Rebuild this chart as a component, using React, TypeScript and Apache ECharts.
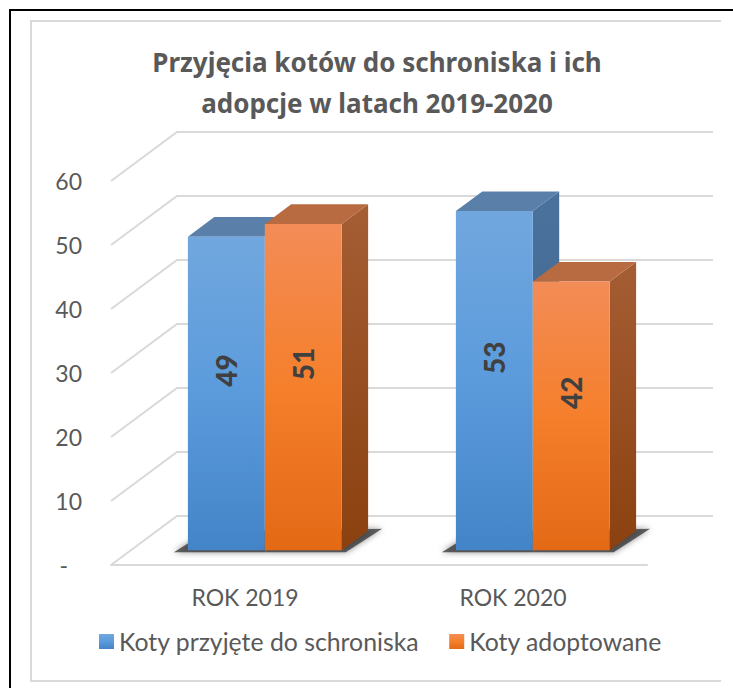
import React, { useEffect, useRef } from "react";
import * as echarts from "echarts";

const categories = ["ROK 2019", "ROK 2020"];
const admitted = [49, 53];
const adopted = [51, 42];
const seriesNames = ["Koty przyjęte do schroniska", "Koty adoptowane"];
const yTicks = [0, 10, 20, 30, 40, 50, 60];
const titleText = "Przyjęcia kotów do schroniska i ich\nadopcje w latach 2019-2020";

const FONT = "Lato, 'Noto Sans', sans-serif";
const TITLE_FONT = "'Noto Sans', Lato, sans-serif";
const TEXT = "#595959";
const GRID_COLOR = "#d9d9d9";
const DX = 66;
const DY = -49;
const BAR_FRONT = 0.3;
const BAR_BACK = 0.7;
const BAR_RATIO = 0.287;

const palettes = [
  {
    front: ["#71a7de", "#5b9bdc", "#4384c8"],
    top: "#5a80aa",
    side: ["#4a729c", "#3c6189"],
  },
  {
    front: ["#f38c57", "#f57f2b", "#e36915"],
    top: "#b86b41",
    side: ["#a55d34", "#8b410f"],
  },
];

function grad(stops: string[]) {
  return new echarts.graphic.LinearGradient(
    0,
    0,
    0,
    1,
    stops.map((c, i) => ({ offset: stops.length === 1 ? 0 : i / (stops.length - 1), color: c }))
  );
}

function makeBarRender(sIdx: number) {
  const pal = palettes[sIdx];
  return (params: any, api: any) => {
    const cat = api.value(0);
    const val = api.value(1);
    const base = api.coord([cat, 0]);
    const top = api.coord([cat, val]);
    const band = api.size([1, 0])[0];
    const w = band * BAR_RATIO;
    const x0 = sIdx === 0 ? base[0] - w : base[0];
    const x1 = x0 + w;
    const fx = DX * BAR_FRONT;
    const fy = DY * BAR_FRONT;
    const bx = DX * BAR_BACK;
    const by = DY * BAR_BACK;
    const yb = base[1];
    const yt = top[1];
    const labelY = api.coord([cat, val / 2 + 3.6])[1] + fy;

    const shadowPts =
      sIdx === 0
        ? [
            [x0 + fx - 14, yb + fy + 2],
            [x1 + fx, yb + fy + 2],
            [x1 + bx, yb + by],
            [x0 + bx - 6, yb + by],
          ]
        : [
            [x0 + fx, yb + fy + 2],
            [x1 + fx + 4, yb + fy + 2],
            [x1 + bx + 14, yb + by - 2],
            [x0 + bx, yb + by],
          ];

    return {
      type: "group",
      children: [
        {
          type: "polygon",
          shape: { points: shadowPts },
          style: {
            fill: "rgba(50,50,50,0.75)",
            shadowBlur: 6,
            shadowColor: "rgba(0,0,0,0.6)",
          },
        },
        {
          type: "polygon",
          shape: {
            points: [
              [x1 + fx, yt + fy],
              [x1 + bx, yt + by],
              [x1 + bx, yb + by],
              [x1 + fx, yb + fy],
            ],
          },
          style: { fill: grad(pal.side) },
        },
        {
          type: "polygon",
          shape: {
            points: [
              [x0 + fx, yt + fy],
              [x1 + fx, yt + fy],
              [x1 + bx, yt + by],
              [x0 + bx, yt + by],
            ],
          },
          style: { fill: pal.top },
        },
        {
          type: "rect",
          shape: { x: x0 + fx, y: yt + fy, width: w, height: yb - yt },
          style: { fill: grad(pal.front) },
        },
        {
          type: "text",
          x: (x0 + x1) / 2 + fx,
          y: labelY,
          rotation: Math.PI / 2,
          style: {
            text: String(val),
            fill: "#404040",
            font: `900 28px ${FONT}`,
            align: "center",
            verticalAlign: "middle",
          },
        },
      ],
    };
  };
}

function wallRender(params: any, api: any) {
  const cs = params.coordSys;
  const y = api.coord([0, api.value(1)])[1];
  return {
    type: "polyline",
    shape: {
      points: [
        [cs.x, y],
        [cs.x + DX, y + DY],
        [cs.x + cs.width + DX, y + DY],
      ],
    },
    style: { stroke: GRID_COLOR, lineWidth: 2, fill: "none" },
  };
}

export default function App() {
  const ref = useRef<HTMLDivElement>(null);
  useEffect(() => {
    if (!ref.current) return;
    document.documentElement.style.overflow = "hidden";
    document.body.style.overflow = "hidden";
    const chart = echarts.init(ref.current, undefined, { renderer: "svg" });
    chart.setOption({
      animation: false,
      backgroundColor: "#ffffff",
      title: {
        text: titleText,
        left: 377,
        top: 41,
        padding: 0,
        textAlign: "center",
        textStyle: {
          fontFamily: TITLE_FONT,
          fontSize: 26,
          fontWeight: "bold",
          color: TEXT,
          lineHeight: 41,
        },
      },
      legend: {
        data: seriesNames,
        left: 99,
        top: 629,
        padding: 0,
        itemWidth: 15,
        itemHeight: 15,
        itemGap: 30,
        icon: "rect",
        textStyle: { fontFamily: FONT, fontSize: 24.8, color: TEXT },
      },
      grid: { left: 111, right: 86, top: 181, bottom: 123 },
      xAxis: {
        type: "category",
        data: categories,
        axisTick: { show: false },
        axisLine: { show: true, lineStyle: { color: GRID_COLOR, width: 2 } },
        axisLabel: { fontFamily: FONT, fontSize: 23, color: TEXT, margin: 20 },
        splitLine: { show: false },
      },
      yAxis: {
        type: "value",
        min: 0,
        max: 60,
        interval: 10,
        axisLine: { show: false },
        axisTick: { show: false },
        splitLine: { show: false },
        axisLabel: {
          fontFamily: FONT,
          fontSize: 23,
          color: TEXT,
          margin: 29,
          formatter: (v: number) => (v === 0 ? "{z|-}" : String(v)),
          rich: {
            z: { fontFamily: FONT, fontSize: 23, color: TEXT, padding: [0, 14, 0, 0] },
          },
        },
      },
      graphic: [
        {
          type: "line",
          shape: { x1: 10, y1: 9, x2: 10, y2: 688 },
          style: { stroke: "#000000", lineWidth: 2 },
          silent: true,
        },
        {
          type: "line",
          shape: { x1: 9, y1: 10, x2: 733, y2: 10 },
          style: { stroke: "#000000", lineWidth: 2 },
          silent: true,
        },
        {
          type: "polyline",
          shape: {
            points: [
              [721, 21],
              [31, 21],
              [31, 681],
              [721, 681],
            ],
          },
          style: { fill: "none", stroke: GRID_COLOR, lineWidth: 2 },
          silent: true,
        },
      ],
      series: [
        {
          type: "custom",
          name: "walls",
          silent: true,
          clip: false,
          z: 1,
          data: yTicks.map((v) => [0, v]),
          encode: { x: 0, y: 1 },
          renderItem: wallRender,
        },
        {
          type: "custom",
          name: seriesNames[0],
          clip: false,
          z: 3,
          itemStyle: { color: grad(palettes[0].front) },
          data: admitted.map((v, i) => [i, v]),
          encode: { x: 0, y: 1 },
          renderItem: makeBarRender(0),
        },
        {
          type: "custom",
          name: seriesNames[1],
          clip: false,
          z: 3,
          itemStyle: { color: grad(palettes[1].front) },
          data: adopted.map((v, i) => [i, v]),
          encode: { x: 0, y: 1 },
          renderItem: makeBarRender(1),
        },
      ],
    });
    return () => chart.dispose();
  }, []);
  return (
    <div
      ref={ref}
      style={{ position: "fixed", left: 0, top: 0, width: 733, height: 688 }}
    />
  );
}
